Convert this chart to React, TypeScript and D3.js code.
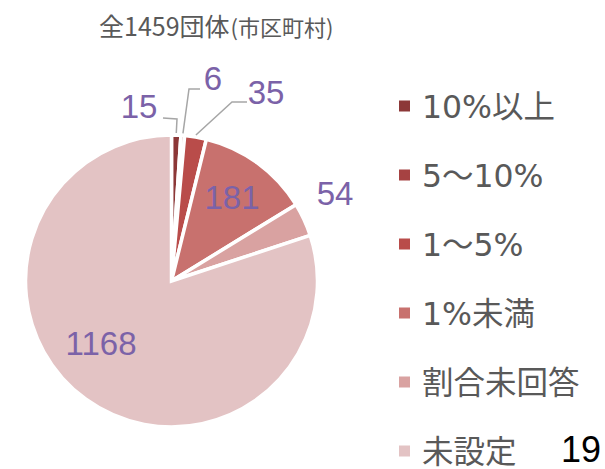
import React from "react";
import * as d3 from "d3";

const categories = ["10%以上", "5～10%", "1～5%", "1%未満", "割合未回答", "未設定"];
const values = [15, 6, 35, 181, 54, 1168];
const colors = ["#8C3838", "#A64242", "#B94C4A", "#C8716E", "#D9A2A1", "#E3C3C4"];
const titleMain = "全1459団体";
const titleSub = "(市区町村)";
const pageNumber = "19";

// layout for value labels (text centre) and leader elbows (null = no leader)
const labelPos: [number, number][] = [[139, 106], [213, 78], [266, 92], [232, 197], [335, 193], [101, 343]];
const leaderElbow: ([number, number] | null)[] = [[177, 119], [189, 89], [232, 102], null, null, null];
const leaderEnd: ([number, number] | null)[] = [[163, 118], [200, 89], [247, 102], null, null, null];

const legendFont = "'DejaVu Sans', 'Noto Sans CJK JP', sans-serif";

export default function App() {
  const W = 605, H = 469;
  const cx = 171.5, cy = 281, r = 146;
  const pie = d3.pie<number>().sort(null).value((d) => d)(values);
  const arc = d3.arc<d3.PieArcDatum<number>>().innerRadius(0).outerRadius(r);
  const legendY = d3.scalePoint<string>().domain(categories).range([106, 451]);

  return (
    <svg width={W} height={H} style={{ position: "absolute", left: 0, top: 0, background: "#fff" }}>
      <text x={99} y={36} fill="#595959" style={{ fontFamily: "'Noto Sans CJK JP', sans-serif" }}>
        <tspan fontSize={25}>{titleMain}</tspan>
        <tspan fontSize={22} dx={1}>{titleSub}</tspan>
      </text>
      <g transform={`translate(${cx},${cy})`}>
        {pie.map((p, i) => (
          <path key={i} d={arc(p) || ""} fill={colors[i]} stroke="#fff" strokeWidth={3.5} strokeLinejoin="miter" />
        ))}
      </g>
      {pie.map((p, i) => {
        const el = leaderElbow[i];
        const en = leaderEnd[i];
        if (!el || !en) return null;
        const a = (p.startAngle + p.endAngle) / 2;
        const sx = cx + (r + 2) * Math.sin(a);
        const sy = cy - (r + 2) * Math.cos(a);
        return (
          <polyline key={"l" + i} points={`${sx},${sy} ${el[0]},${el[1]} ${en[0]},${en[1]}`} fill="none" stroke="#A6A6A6" strokeWidth={1.5} />
        );
      })}
      {values.map((v, i) => (
        <text key={"t" + i} x={labelPos[i][0]} y={labelPos[i][1]} textAnchor="middle" dominantBaseline="central"
          fill="#7B62A8" fontSize={33} style={{ fontFamily: "'Liberation Sans', Arial, sans-serif" }}>
          {v}
        </text>
      ))}
      {categories.map((c, i) => (
        <g key={"g" + i} transform={`translate(0,${legendY(c)})`}>
          <rect x={399} y={-5.5} width={11} height={11} fill={colors[i]} />
          <text x={422} y={11.5} fill="#595959" fontSize={31.5} style={{ fontFamily: legendFont }}>{c}</text>
        </g>
      ))}
      <text x={601} y={462} textAnchor="end" fill="#000" fontSize={36} style={{ fontFamily: "'Liberation Sans', Arial, sans-serif" }}>{pageNumber}</text>
    </svg>
  );
}
